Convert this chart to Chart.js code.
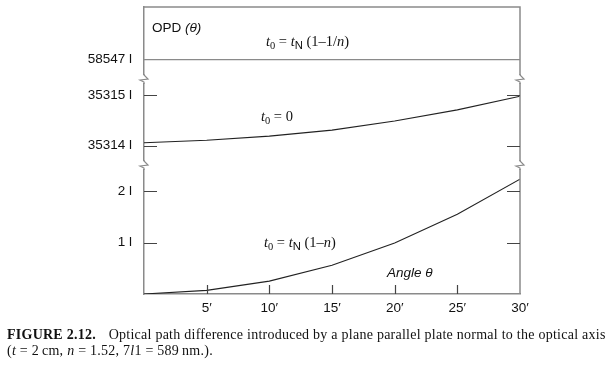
<!DOCTYPE html>
<html>
<head>
<meta charset="utf-8">
<script src="https://cdn.jsdelivr.net/npm/chart.js@4/dist/chart.umd.min.js"></script>
<style>
  html, body { margin: 0; padding: 0; background: #fff; }
  #wrap { position: relative; width: 611px; height: 367px; }
  #c { position: absolute; left: 0; top: 0; }
  #caption {
    position: absolute; left: 7px; top: 327px; width: 604px;
    font-family: "Liberation Serif", serif; font-size: 14px; line-height: 16px;
    letter-spacing: 0.25px; color: #111; white-space: nowrap;
  }
  #caption b { margin-right: 9px; }
</style>
</head>
<body>
<div id="wrap">
  <canvas id="c" width="611" height="367"></canvas>
  <div id="caption">
    <div><b>FIGURE 2.12.</b> Optical path difference introduced by a plane parallel plate normal to the optical axis</div>
    <div>(<i>t</i> = 2&#8201;cm, <i>n</i> = 1.52, 7<i>l</i>1 = 589&#8201;nm.).</div>
  </div>
</div>
<script>
// angle in minutes of arc
const angles = [0, 5, 10, 15, 20, 25, 30];
// t0 = tN (1-1/n)
const opdTop = [58547, 58547, 58547, 58547, 58547, 58547, 58547];
// t0 = 0
const opdMid = [35314.06, 35314.11, 35314.19, 35314.31, 35314.49, 35314.71, 35314.98];
// t0 = tN (1-n)
const opdBot = [0, 0.07, 0.25, 0.56, 0.99, 1.55, 2.23];

const ticksTop = [58547];
const ticksMid = [35314, 35315];
const ticksBot = [1, 2];
const ticksX = [5, 10, 15, 20, 25, 30];

const FRAME = "#8a8a8a";
const INK = "#222";
const sans = "'Liberation Sans', Arial, sans-serif";
const serif = "'Liberation Serif', 'Times New Roman', serif";

function pts(vals) {
  return angles.map((a, i) => ({ x: a, y: vals[i] }));
}

function yAxis(min, max, weight, tickVals) {
  return {
    type: "linear",
    position: "left",
    stack: "opd",
    stackWeight: weight,
    min: min,
    max: max,
    afterFit: s => { s.width = 144; s.paddingTop = 0; s.paddingBottom = 0; },
    afterBuildTicks: s => { s.ticks = tickVals.map(v => ({ value: v })); },
    grid: { display: false, drawTicks: false },
    border: { display: true, color: FRAME, width: 1.5 },
    ticks: {
      padding: 12,
      color: "#111",
      font: { family: sans, size: 13.5 },
      callback: v => v + " l"
    }
  };
}

// draw a run of text pieces: [text, kind]
function rich(ctx, x, y, runs, size) {
  runs.forEach(([t, k]) => {
    let f = size, dy = 0, fam = serif, st = "";
    if (k === "i") st = "italic ";
    if (k === "sub") { f = size * 0.72; dy = 3; }
    if (k === "subsans") { f = size * 0.78; dy = 3; fam = sans; }
    if (k === "sans") fam = sans;
    if (k === "isans") { fam = sans; st = "italic "; }
    ctx.font = st + f + "px " + fam;
    ctx.fillText(t, x, y + dy);
    x += ctx.measureText(t).width;
  });
}

function zig(ctx, x, y) {
  ctx.fillStyle = "#fff";
  ctx.fillRect(x - 3, y - 4, 6, 8);
  ctx.beginPath();
  ctx.moveTo(x, y - 5);
  ctx.lineTo(x, y - 4);
  ctx.lineTo(x + 4, y);
  ctx.lineTo(x - 4, y + 1);
  ctx.lineTo(x, y + 3);
  ctx.lineTo(x, y + 5);
  ctx.stroke();
}

const decor = {
  id: "decor",
  afterDraw(chart) {
    const ctx = chart.ctx;
    const a = chart.chartArea;
    ctx.save();
    ctx.strokeStyle = FRAME;
    ctx.lineWidth = 1.5;
    ctx.beginPath();
    ctx.moveTo(a.left - 0.75, a.top);
    ctx.lineTo(a.right, a.top);
    ctx.lineTo(a.right, a.bottom);
    ctx.stroke();

    // inward ticks on both sides
    ctx.lineWidth = 1.2;
    ctx.strokeStyle = "#444";
    ["yMid", "yBot"].forEach(id => {
      const s = chart.scales[id];
      s.ticks.forEach(t => {
        const y = Math.round(s.getPixelForValue(t.value)) + 0.5;
        ctx.beginPath();
        ctx.moveTo(a.left, y); ctx.lineTo(a.left + 13, y);
        ctx.moveTo(a.right - 13, y); ctx.lineTo(a.right, y);
        ctx.stroke();
      });
    });
    const sx = chart.scales.x;
    ticksX.slice(0, -1).forEach(v => {
      const x = Math.round(sx.getPixelForValue(v)) + 0.5;
      ctx.beginPath();
      ctx.moveTo(x, a.bottom); ctx.lineTo(x, a.bottom - 9);
      ctx.stroke();
    });

    // axis breaks
    ctx.strokeStyle = FRAME;
    ctx.lineWidth = 1.2;
    [chart.scales.yTop.bottom, chart.scales.yMid.bottom].forEach(y => {
      zig(ctx, a.left, y);
      zig(ctx, a.right, y);
    });

    // labels
    ctx.fillStyle = "#111";
    ctx.textBaseline = "alphabetic";
    rich(ctx, 152, 32, [["OPD ", "sans"], ["(θ)", "isans"]], 13.5);
    rich(ctx, 266, 46, [["t", "i"], ["0", "sub"], [" = ", "n"], ["t", "i"], ["N", "subsans"], [" (1–1/", "n"], ["n", "i"], [")", "n"]], 14.5);
    rich(ctx, 261, 121, [["t", "i"], ["0", "sub"], [" = 0", "n"]], 14.5);
    rich(ctx, 264, 247, [["t", "i"], ["0", "sub"], [" = ", "n"], ["t", "i"], ["N", "subsans"], [" (1–", "n"], ["n", "i"], [")", "n"]], 14.5);
    rich(ctx, 387, 277, [["Angle θ", "isans"]], 13.5);
    ctx.restore();
  }
};

new Chart(document.getElementById("c"), {
  type: "line",
  data: {
    datasets: [
      { data: pts(opdTop), yAxisID: "yTop", borderColor: FRAME, borderWidth: 1.3 },
      { data: pts(opdMid), yAxisID: "yMid", borderColor: INK, borderWidth: 1.1 },
      { data: pts(opdBot), yAxisID: "yBot", borderColor: INK, borderWidth: 1.1 }
    ]
  },
  options: {
    responsive: false,
    animation: false,
    layout: { padding: { top: 7, right: 91, left: 0, bottom: 0 } },
    elements: { point: { radius: 0 }, line: { tension: 0, fill: false } },
    plugins: { legend: { display: false }, tooltip: { enabled: false } },
    scales: {
      x: {
        type: "linear",
        min: 0,
        max: 30,
        afterFit: s => { s.height = 73; s.paddingLeft = 0; s.paddingRight = 0; },
        afterBuildTicks: s => { s.ticks = ticksX.map(v => ({ value: v })); },
        grid: { display: false, drawTicks: false },
        border: { display: true, color: FRAME, width: 1.5 },
        ticks: {
          padding: 6,
          maxRotation: 0,
          color: "#111",
          font: { family: sans, size: 13.5 },
          callback: v => v + "′"
        }
      },
      // stacked left axes are laid out bottom-first in definition order
      yBot: yAxis(0, 2.505, 129, ticksBot),
      yMid: yAxis(35313.62, 35315.32, 86, ticksMid),
      yTop: yAxis(58546.62, 58548.03, 72, ticksTop)
    }
  },
  plugins: [decor]
});
</script>
</body>
</html>
